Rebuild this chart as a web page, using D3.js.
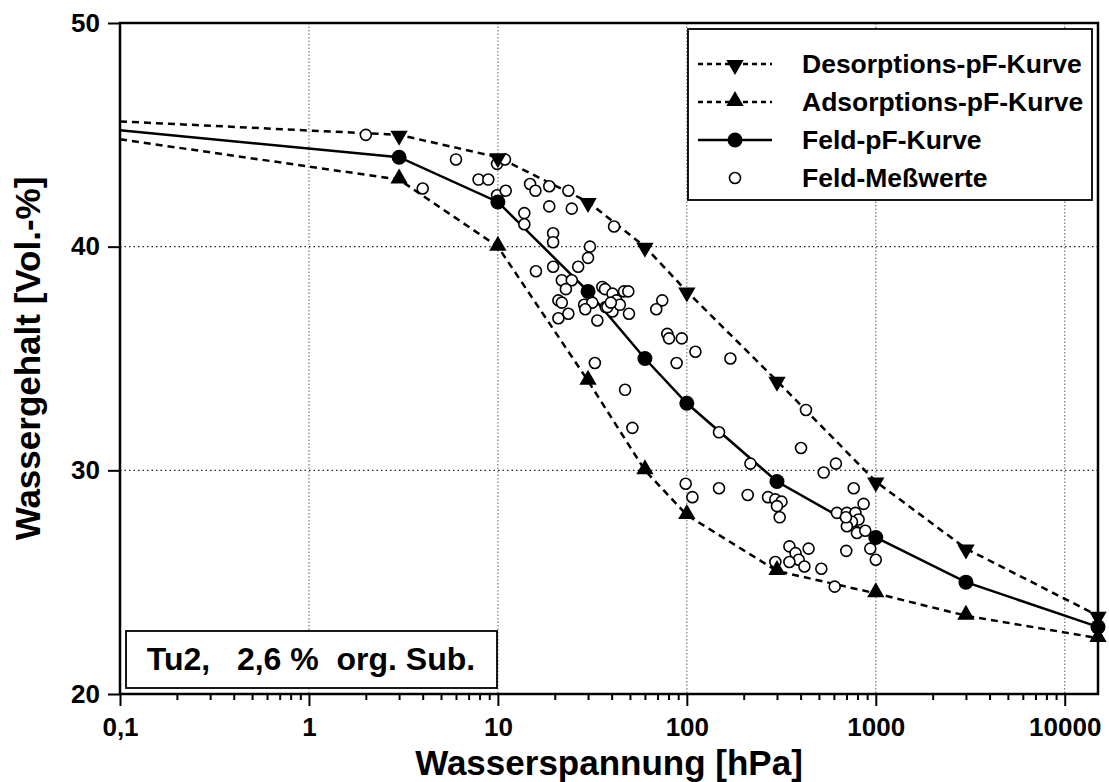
<!DOCTYPE html>
<html>
<head>
<meta charset="utf-8">
<script src="https://cdn.jsdelivr.net/npm/d3@7/dist/d3.min.js"></script>
<style>
  html, body { margin: 0; padding: 0; background: #fff; }
  svg text { font-family: "Liberation Sans", Arial, Helvetica, sans-serif; font-weight: bold; fill: #000; }
</style>
</head>
<body>
<svg id="chart" width="1109" height="782"></svg>
<script>
// ---------- data ----------
const curvePressure = [0.1, 3, 10, 30, 60, 100, 300, 1000, 3000, 15000];
const desorption    = [45.6, 45, 44, 42, 40, 38, 34, 29.5, 26.5, 23.5];
const adsorption    = [44.8, 43, 40, 34, 30, 28, 25.5, 24.5, 23.5, 22.5];
const feldCurve     = [45.2, 44, 42, 38, 35, 33, 29.5, 27, 25, 23];

const measuredPressure = [
  2, 6, 4, 9.9, 10.9, 7.9, 8.9, 9.9, 11, 14.8, 15.8, 18.7, 23.6, 18.7, 24.6, 13.8, 13.8,
  19.6, 19.6, 41.2, 30.7, 30, 26.6, 19.6, 15.9, 21.8, 24.6, 22.9, 20.9, 21.8, 23.6, 20.9,
  35.7, 36.9, 40.4, 46.5, 49, 42.4, 28.6, 31.6, 37.2, 40.4, 44.2, 49.4, 33.6, 74.1, 68.9,
  78.8, 80.5, 94, 111, 88.3, 170, 32.6, 47.1, 51.5, 148,
  427, 402, 217, 615, 530, 98.6, 107, 148, 210, 269, 294, 317, 300, 310, 764, 862, 623,
  703, 780, 811, 748, 703, 795, 880, 935, 1000, 698, 349, 441, 376, 391, 349, 294, 419,
  515, 606, 29, 38, 39.6, 695
];
const measuredWater = [
  45.0, 43.9, 42.6, 43.7, 43.9, 43.0, 43.0, 42.3, 42.5, 42.8, 42.5, 42.7, 42.5, 41.8, 41.7, 41.5, 41.0,
  40.6, 40.2, 40.9, 40.0, 39.5, 39.1, 39.1, 38.9, 38.5, 38.5, 38.1, 37.6, 37.5, 37.0, 36.8,
  38.2, 38.1, 37.9, 38.0, 38.0, 37.6, 37.4, 37.5, 37.3, 37.1, 37.4, 37.0, 36.7, 37.6, 37.2,
  36.1, 35.9, 35.9, 35.3, 34.8, 35.0, 34.8, 33.6, 31.9, 31.7,
  32.7, 31.0, 30.3, 30.3, 29.9, 29.4, 28.8, 29.2, 28.9, 28.8, 28.7, 28.6, 28.4, 27.9, 29.2, 28.5, 28.1,
  28.1, 28.1, 27.8, 27.7, 27.5, 27.2, 27.3, 26.5, 26.0, 26.4, 26.6, 26.5, 26.3, 26.0, 25.9, 25.9, 25.7,
  25.6, 24.8, 37.2, 37.3, 37.5, 27.9
];

const xMajorTicks = [0.1, 1, 10, 100, 1000, 10000];
const yTicks = [20, 30, 40, 50];
const xGrid = [1, 10, 100, 1000, 10000];
const yGrid = [30, 40];

const legendLabels = ["Desorptions-pF-Kurve", "Adsorptions-pF-Kurve", "Feld-pF-Kurve", "Feld-Meßwerte"];
const xTitle = "Wasserspannung [hPa]";
const yTitle = "Wassergehalt [Vol.-%]";
const boxLabel = "Tu2,   2,6 %  org. Sub.";

// ---------- layout ----------
const L = 120, R = 1098, T = 23, B = 694;
const svg = d3.select("#chart");
const x = d3.scaleLog().domain([0.1, 15000]).range([L, R]);
const y = d3.scaleLinear().domain([20, 50]).range([B, T]);
const FONT = "'Liberation Sans', Arial, sans-serif";

// grid
svg.append("g").selectAll("line").data(xGrid).join("line")
  .attr("x1", d => x(d)).attr("x2", d => x(d)).attr("y1", T).attr("y2", B)
  .attr("stroke", "#777").attr("stroke-width", 1.2).attr("stroke-dasharray", "1.5,2");
svg.append("g").selectAll("line").data(yGrid).join("line")
  .attr("x1", L).attr("x2", R).attr("y1", d => y(d)).attr("y2", d => y(d))
  .attr("stroke", "#222").attr("stroke-width", 1.2).attr("stroke-dasharray", "1.5,3");

// minor x ticks
const minor = [];
for (let e = -1; e <= 4; e++) for (let m = 2; m <= 9; m++) { const v = m * Math.pow(10, e); if (v < 15000) minor.push(v); }
const xMinorAxis = d3.axisBottom(x).tickValues(minor).tickSize(6).tickFormat("");
svg.append("g").attr("transform", `translate(0,${B})`).call(xMinorAxis)
  .call(g => g.select(".domain").remove())
  .call(g => g.selectAll("line").attr("stroke", "#000").attr("stroke-width", 2));

const xAxis = d3.axisBottom(x).tickValues(xMajorTicks).tickSize(12).tickPadding(12)
  .tickFormat(d => String(d).replace(".", ","));
svg.append("g").attr("transform", `translate(0,${B})`).call(xAxis)
  .call(g => g.select(".domain").remove())
  .call(g => g.selectAll("line").attr("stroke", "#000").attr("stroke-width", 2))
  .call(g => g.selectAll("text").attr("font-size", 26).style("font-family", FONT).style("font-weight", "bold"));

const yAxis = d3.axisLeft(y).tickValues(yTicks).tickSize(12).tickPadding(8);
svg.append("g").attr("transform", `translate(${L},0)`).call(yAxis)
  .call(g => g.select(".domain").remove())
  .call(g => g.selectAll("line").attr("stroke", "#000").attr("stroke-width", 2))
  .call(g => g.selectAll("text").attr("font-size", 26).style("font-family", FONT).style("font-weight", "bold"));

// frame
svg.append("rect").attr("x", L).attr("y", T).attr("width", R - L).attr("height", B - T)
  .attr("fill", "none").attr("stroke", "#000").attr("stroke-width", 2.5);

// lines
const pts = vals => curvePressure.map((p, i) => [p, vals[i]]);
const line = d3.line().x(d => x(d[0])).y(d => y(d[1]));
svg.append("path").datum(pts(desorption)).attr("d", line)
  .attr("fill", "none").attr("stroke", "#000").attr("stroke-width", 2.5).attr("stroke-dasharray", "7,5");
svg.append("path").datum(pts(adsorption)).attr("d", line)
  .attr("fill", "none").attr("stroke", "#000").attr("stroke-width", 2.5).attr("stroke-dasharray", "7,5");
svg.append("path").datum(pts(feldCurve)).attr("d", line)
  .attr("fill", "none").attr("stroke", "#000").attr("stroke-width", 2.5);

// measured points
const meas = measuredPressure.map((p, i) => [p, measuredWater[i]]);
svg.append("g").selectAll("circle").data(meas).join("circle")
  .attr("cx", d => x(d[0])).attr("cy", d => y(d[1])).attr("r", 5.5)
  .attr("fill", "#fff").attr("stroke", "#000").attr("stroke-width", 1.6);

// markers (skip the 0.1 start point)
const tri = d3.symbol().type(d3.symbolTriangle).size(130);
svg.append("g").selectAll("path").data(pts(desorption).filter(d => d[0] > 0.1)).join("path")
  .attr("d", tri).attr("transform", d => `translate(${x(d[0])},${y(d[1]) + 1}) rotate(180)`).attr("fill", "#000");
svg.append("g").selectAll("path").data(pts(adsorption).filter(d => d[0] > 0.1)).join("path")
  .attr("d", tri).attr("transform", d => `translate(${x(d[0])},${y(d[1]) - 1})`).attr("fill", "#000");
svg.append("g").selectAll("circle").data(pts(feldCurve).filter(d => d[0] > 0.1)).join("circle")
  .attr("cx", d => x(d[0])).attr("cy", d => y(d[1])).attr("r", 7.5).attr("fill", "#000");

// legend
const lg = svg.append("g");
lg.append("rect").attr("x", 688).attr("y", 29).attr("width", 404).attr("height", 171)
  .attr("fill", "#fff").attr("stroke", "#000").attr("stroke-width", 1.8);
const rowsY = [64, 102, 140, 178];
const types = ["down", "up", "circle", "open"];
types.forEach((t, i) => {
  const yy = rowsY[i];
  if (t !== "open") {
    lg.append("line").attr("x1", 698).attr("x2", 772).attr("y1", yy).attr("y2", yy)
      .attr("stroke", "#000").attr("stroke-width", 2.5).attr("stroke-dasharray", t === "circle" ? null : "5,4");
  }
  if (t === "down") lg.append("path").attr("d", tri).attr("transform", `translate(735,${yy + 1}) rotate(180)`);
  if (t === "up") lg.append("path").attr("d", tri).attr("transform", `translate(735,${yy - 1})`);
  if (t === "circle") lg.append("circle").attr("cx", 735).attr("cy", yy).attr("r", 7.5);
  if (t === "open") lg.append("circle").attr("cx", 735).attr("cy", yy).attr("r", 5.5).attr("fill", "#fff").attr("stroke", "#000").attr("stroke-width", 1.6);
  lg.append("text").attr("x", 802).attr("y", yy).attr("dy", "0.35em").attr("font-size", 26.5).text(legendLabels[i]);
});

// label box
svg.append("rect").attr("x", 126).attr("y", 631).attr("width", 371).attr("height", 57)
  .attr("fill", "#fff").attr("stroke", "#000").attr("stroke-width", 1.8);
svg.append("text").attr("x", 311).attr("y", 659).attr("dy", "0.35em").attr("text-anchor", "middle")
  .attr("font-size", 32).style("white-space", "pre").attr("xml:space", "preserve").text(boxLabel);

// axis titles
svg.append("text").attr("x", (L + R) / 2).attr("y", 775).attr("text-anchor", "middle")
  .attr("font-size", 35).text(xTitle);
svg.append("text").attr("transform", `translate(40,${(T + B) / 2}) rotate(-90)`).attr("text-anchor", "middle")
  .attr("font-size", 35).text(yTitle);
</script>
</body>
</html>
